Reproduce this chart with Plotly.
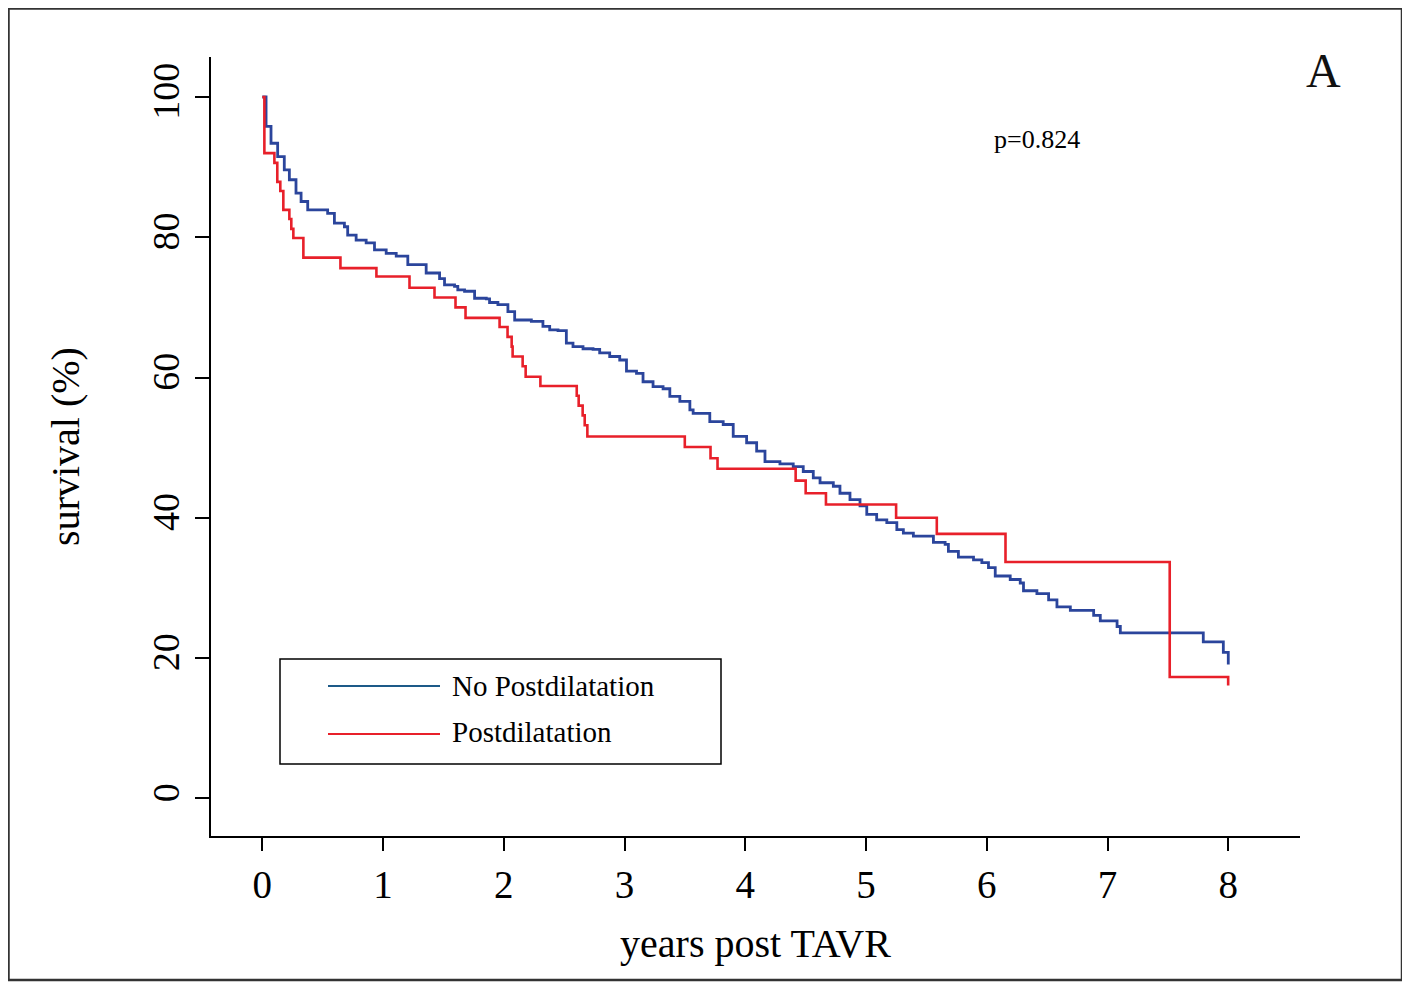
import plotly.graph_objects as go

# Kaplan-Meier step data (years, survival %)
no_pd_time = [0, 0.031, 0.072, 0.127, 0.182, 0.224, 0.279, 0.321, 0.376, 0.541, 0.597, 0.680,
              0.707, 0.777, 0.860, 0.929, 1.026, 1.109, 1.205, 1.357, 1.468, 1.509, 1.592, 1.619,
              1.675, 1.758, 1.855, 1.882, 1.951, 2.034, 2.090, 2.228, 2.324, 2.380, 2.449, 2.518,
              2.573, 2.656, 2.739, 2.794, 2.877, 2.960, 3.016, 3.099, 3.153, 3.236, 3.319, 3.375,
              3.458, 3.541, 3.568, 3.706, 3.817, 3.900, 4.011, 4.094, 4.163, 4.287, 4.397, 4.480,
              4.563, 4.619, 4.729, 4.784, 4.867, 4.950, 5.006, 5.088, 5.172, 5.255, 5.309, 5.392,
              5.558, 5.655, 5.682, 5.765, 5.890, 5.959, 6.014, 6.070, 6.194, 6.277, 6.304, 6.415,
              6.512, 6.581, 6.692, 6.885, 6.940, 7.079, 7.106, 7.793, 7.959, 8.0]
no_pd_surv = [100, 95.8, 93.4, 91.5, 89.6, 88.2, 86.3, 85.1, 83.9, 83.4, 82.0, 81.5,
              80.3, 79.6, 79.2, 78.2, 77.7, 77.3, 76.1, 74.9, 74.1, 73.2, 73.0, 72.5,
              72.3, 71.3, 71.2, 70.7, 70.4, 69.4, 68.2, 68.0, 67.3, 66.8, 66.7, 64.9,
              64.4, 64.1, 64.0, 63.5, 63.0, 62.5, 60.9, 60.6, 59.4, 58.7, 58.4, 57.3,
              56.6, 55.4, 54.9, 53.7, 53.3, 51.6, 50.7, 49.5, 48.0, 47.7, 47.3, 46.6,
              45.7, 45.0, 44.5, 43.5, 42.6, 41.7, 40.5, 39.7, 39.3, 38.3, 37.8, 37.4,
              36.5, 36.2, 35.2, 34.4, 34.0, 33.6, 32.9, 31.7, 31.2, 30.7, 29.6, 29.2,
              28.3, 27.3, 26.8, 26.1, 25.3, 24.5, 23.6, 22.3, 20.8, 19.1]

pd_time = [0, 0.017, 0.10, 0.124, 0.149, 0.174, 0.224, 0.240, 0.257, 0.34, 0.647, 0.945, 1.219,
           1.426, 1.60, 1.683, 1.965, 2.031, 2.065, 2.073, 2.156, 2.181, 2.303, 2.604, 2.620,
           2.653, 2.670, 2.692, 3.499, 3.712, 3.770, 4.417, 4.500, 4.668, 5.249, 5.586, 6.155,
           7.515, 7.999]
pd_surv = [100, 92.0, 90.6, 87.9, 86.6, 83.9, 82.6, 81.2, 79.9, 77.1, 75.6, 74.4, 72.8,
           71.4, 70.0, 68.5, 67.2, 65.8, 64.4, 63.0, 61.6, 60.1, 58.8, 57.4, 56.0,
           54.6, 53.2, 51.6, 50.1, 48.5, 47.0, 45.3, 43.5, 41.9, 40.0, 37.7, 33.7,
           17.3, 16.1]

x_ticks = [0, 1, 2, 3, 4, 5, 6, 7, 8]
y_ticks = [0, 20, 40, 60, 80, 100]
series_names = ["No Postdilatation", "Postdilatation"]

FONT = "Liberation Serif, Times New Roman, serif"
BLUE = "#2b459c"
RED = "#e8202a"
LEG_BLUE = "#1d5a88"

fig = go.Figure()
fig.add_trace(go.Scatter(x=no_pd_time, y=no_pd_surv, mode="lines", line_shape="hv",
                         line=dict(color=BLUE, width=2.8), name=series_names[0],
                         showlegend=False))
fig.add_trace(go.Scatter(x=pd_time, y=pd_surv, mode="lines", line_shape="hv",
                         line=dict(color=RED, width=2.6), name=series_names[1],
                         showlegend=False))

# page is offset by the 8px body margin
OFF = 8
W, H = 1410 - OFF, 983 - OFF
L, T = 211 - OFF, 57 - OFF
R = W - (1300 - OFF)
B = H - (836 - OFF)
pw, ph = W - L - R, H - T - B

def px(xp):
    return (xp - OFF - L) / pw

def py(yp):
    return (H - B - (yp - OFF)) / ph

shapes = [
    # outer frame
    dict(type="rect", xref="paper", yref="paper", x0=px(8.5), x1=px(1402), y0=py(980), y1=py(8.5),
         line=dict(color="#333333", width=2.5)),
    # legend box
    dict(type="rect", xref="paper", yref="paper", x0=px(280), x1=px(721), y0=py(764), y1=py(659),
         line=dict(color="black", width=1.5)),
    dict(type="line", xref="paper", yref="paper", x0=px(328), x1=px(440), y0=py(686), y1=py(686),
         line=dict(color=LEG_BLUE, width=2)),
    dict(type="line", xref="paper", yref="paper", x0=px(328), x1=px(440), y0=py(734), y1=py(734),
         line=dict(color=RED, width=2)),
]

annotations = [
    dict(text=series_names[0], xref="paper", yref="paper", x=px(450), y=py(686), xanchor="left",
         yanchor="middle", showarrow=False, font=dict(family=FONT, size=29, color="black")),
    dict(text=series_names[1], xref="paper", yref="paper", x=px(450), y=py(732), xanchor="left",
         yanchor="middle", showarrow=False, font=dict(family=FONT, size=29, color="black")),
    dict(text="p=0.824", xref="paper", yref="paper", x=px(1037), y=py(140), xanchor="center",
         yanchor="middle", showarrow=False, font=dict(family=FONT, size=26, color="black")),
    dict(text="A", xref="paper", yref="paper", x=px(1323), y=py(70), xanchor="center",
         yanchor="middle", showarrow=False, font=dict(family=FONT, size=48, color="#111111")),
]

fig.update_layout(
    width=W, height=H,
    margin=dict(l=L, r=R, t=T, b=B),
    paper_bgcolor="white", plot_bgcolor="white",
    font=dict(family=FONT, color="black"),
    shapes=shapes, annotations=annotations,
    showlegend=False,
)
fig.update_xaxes(range=[-0.425, 8.594], tickvals=x_ticks, ticktext=[str(v) for v in x_ticks],
                 showgrid=False, zeroline=False, showline=True, linecolor="black", linewidth=2,
                 ticks="outside", ticklen=13, tickwidth=1.5, tickcolor="black",
                 tickfont=dict(family=FONT, size=39, color="black"), ticklabelstandoff=0,
                 title=dict(text="years post TAVR", font=dict(family=FONT, size=40, color="black"),
                            standoff=24))
fig.update_yaxes(range=[-5.37, 105.7], tickvals=y_ticks, ticktext=[str(v) for v in y_ticks],
                 showgrid=False, zeroline=False, showline=True, linecolor="black", linewidth=2,
                 ticks="outside", ticklen=14, tickwidth=1.5, tickcolor="black", tickangle=-90,
                 tickfont=dict(family=FONT, size=38, color="black"), ticklabelstandoff=1,
                 title=dict(text="survival (%)", font=dict(family=FONT, size=40, color="black"),
                            standoff=53))

fig.write_html("out.html")
